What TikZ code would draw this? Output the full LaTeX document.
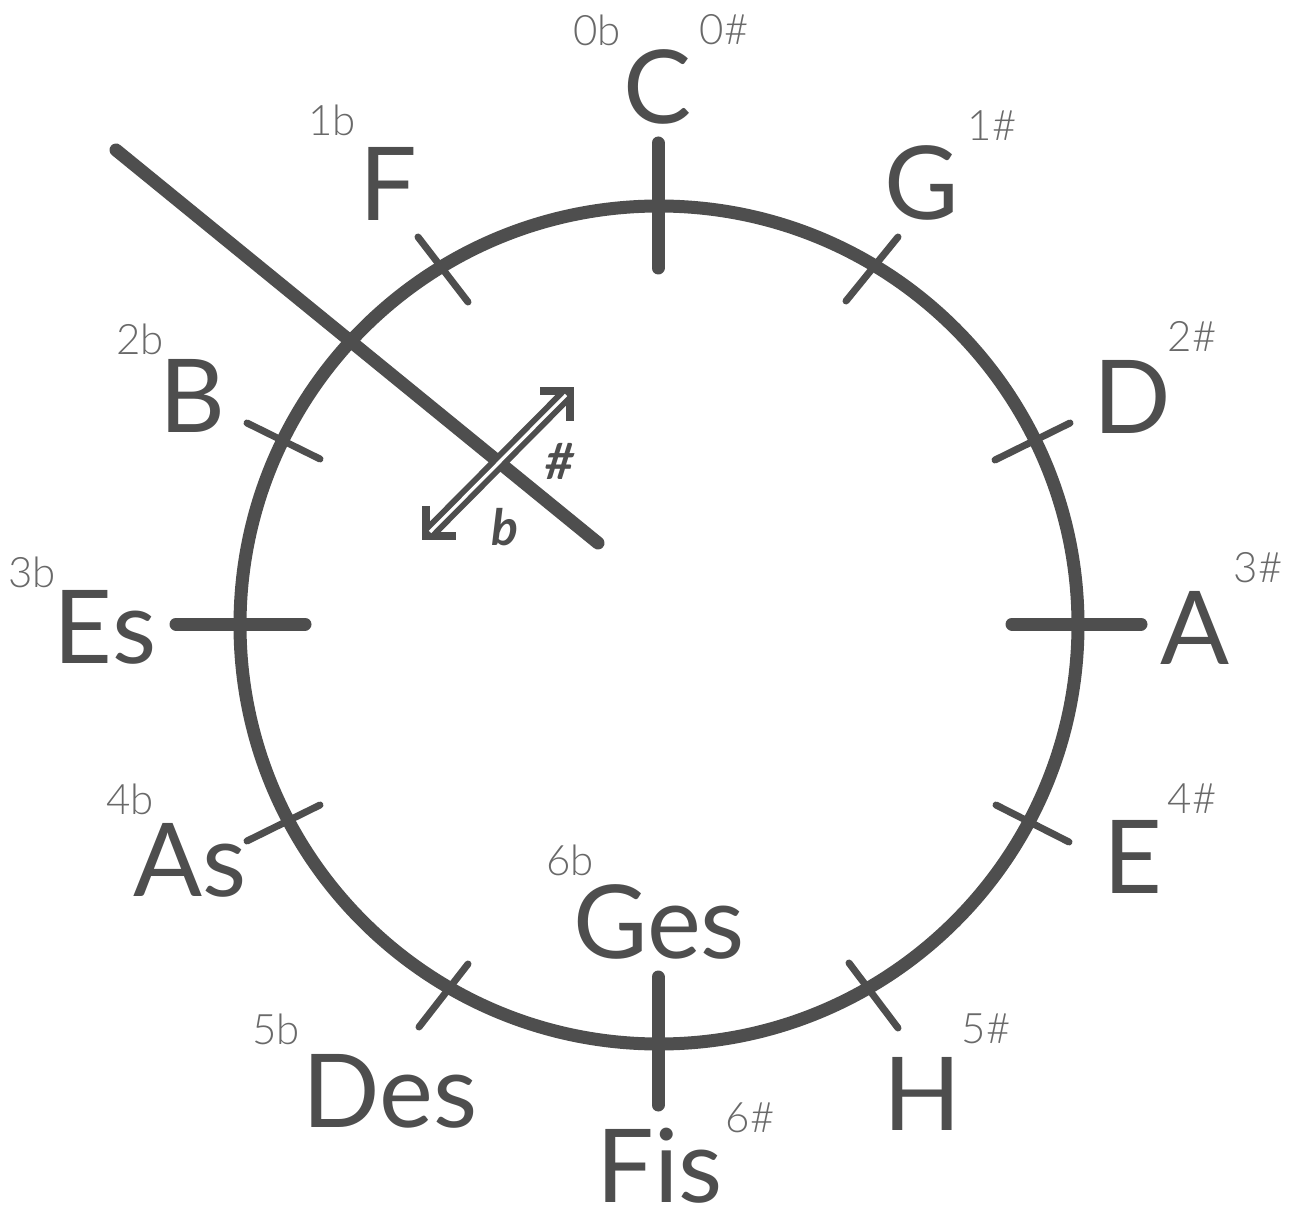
\documentclass[tikz,border=0pt]{standalone}
\usepackage{fontspec}
\setmainfont{Lato}
\newfontfamily\lightfont{Lato Light}
\definecolor{ink}{RGB}{78,78,78}

\begin{document}
\begin{tikzpicture}[
    x=0.5pt, y=-0.5pt,
    ring/.style={draw=ink, line width=6.5pt},
    bigtick/.style={draw=ink, line width=6.5pt, line cap=round},
    smalltick/.style={draw=ink, line width=3.5pt, line cap=round},
    pointer/.style={draw=ink, line width=6.5pt, line cap=round},
    key/.style={text=ink, inner sep=0pt, font=\fontsize{51}{51}\selectfont},
    count/.style={text=ink!85, inner sep=0pt, font=\lightfont\fontsize{21}{21}\selectfont},
    sign/.style={text=ink, inner sep=0pt, font=\bfseries\itshape\fontsize{25}{25}\selectfont},
    shaft/.style={draw=ink, line width=7.5pt},
    channel/.style={draw=white, line width=1.6pt},
    barb/.style={draw=ink, line width=4pt, line join=miter}
  ]
    \useasboundingbox (0,0) rectangle (1296,1208);
    \coordinate (mid) at (659,625);
    \draw[ring] (mid) circle[radius=209.5pt];

    % major ticks
    \draw[bigtick] (658,143) -- (658,268);
    \draw[bigtick] (658,977) -- (658,1105);
    \draw[bigtick] (176,624) -- (305,624);
    \draw[bigtick] (1012,624) -- (1141,624);

    % minor ticks
    \draw[smalltick] (846,301) -- (898,237);
    \draw[smalltick] (995,460) -- (1070,423);
    \draw[smalltick] (996,805) -- (1069,842);
    \draw[smalltick] (849,963) -- (898,1028);
    \draw[smalltick] (419,1027) -- (468,964);
    \draw[smalltick] (247,841) -- (320,805);
    \draw[smalltick] (247,423) -- (320,459);
    \draw[smalltick] (418,237) -- (468,302);

    % keys
    \node[key] (c) at (658,87) {C};
    \node[key] (g) at (922,183) {G};
    \node[key] (d) at (1132,397) {D};
    \node[key] (a) at (1195,628) {A};
    \node[key] (e) at (1133,857) {E};
    \node[key] (h) at (922,1094) {H};
    \node[key] (fis) at (660,1166) {Fis};
    \node[key] (ges) at (659,922) {Ges};
    \node[key] (des) at (390,1091) {Des};
    \node[key] (as) at (190,860) {As};
    \node[key] (es) at (105,627) {Es};
    \node[key] (b) at (192,396) {B};
    \node[key] (f) at (388,184) {F};

    % accidentals
    \node[count] (c0b) at (597,30) {0b};
    \node[count] (c0s) at (724,30) {0\#};
    \node[count] (g1) at (992,126) {1\#};
    \node[count] (d2) at (1192,336) {2\#};
    \node[count] (a3) at (1258,568) {3\#};
    \node[count] (e4) at (1192,799) {4\#};
    \node[count] (h5) at (986,1029) {5\#};
    \node[count] (fis6) at (750,1118) {6\#};
    \node[count] (ges6) at (570,860) {6b};
    \node[count] (des5) at (276,1029) {5b};
    \node[count] (as4) at (130,799) {4b};
    \node[count] (es3) at (32,572) {3b};
    \node[count] (b2) at (140,339) {2b};
    \node[count] (f1) at (332,120) {1b};

    % pointer
    \coordinate (tail) at (116,150);
    \coordinate (head) at (598,543);
    \draw[pointer] (tail) -- (head);

    % double arrow: b <-> #
    \coordinate (flat) at (426,536);
    \coordinate (flatin) at (430,532);
    \coordinate (sharp) at (570,391);
    \coordinate (sharpin) at (566,395);
    \draw[shaft] (flatin) -- (sharpin);
    \draw[barb] (426,506) -- (flat) -- (456,536);
    \draw[barb] (540,391) -- (sharp) -- (570,421);
    \draw[channel] (flatin) -- (sharpin);
    \node[sign] (sharpsign) at (560,461) {\#};
    \node[sign] (flatsign) at (505,527) {b};
\end{tikzpicture}
\end{document}
